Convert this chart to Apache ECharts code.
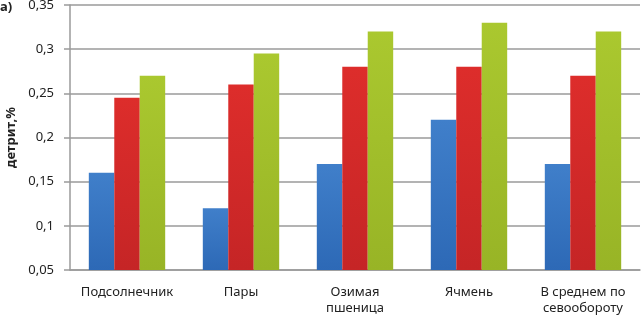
<!DOCTYPE html>
<html><head><meta charset="utf-8">
<script src="https://cdn.jsdelivr.net/npm/echarts@6/dist/echarts.min.js"></script>
<style>html,body{margin:0;padding:0;background:#fff}#c{width:643px;height:316px}</style>
</head><body><div id="c"></div>
<script>
const categories = ['Подсолнечник', 'Пары', 'Озимая\nпшеница', 'Ячмень', 'В среднем по\nсевообороту'];
const seriesBlue = [0.16, 0.12, 0.17, 0.22, 0.17];
const seriesRed = [0.245, 0.26, 0.28, 0.28, 0.27];
const seriesGreen = [0.27, 0.295, 0.32, 0.33, 0.32];
const yTicks = [0.05, 0.1, 0.15, 0.2, 0.25, 0.3, 0.35];

function grad(top, bottom) {
  return new echarts.graphic.LinearGradient(0, 0, 0, 1, [{offset: 0, color: top}, {offset: 1, color: bottom}]);
}
const font = 'Noto Sans';
const chart = echarts.init(document.getElementById('c'));
chart.setOption({
  animation: false,
  textStyle: {fontFamily: font},
  grid: {left: 70, right: 3, top: 5, bottom: 46, containLabel: false, outerBoundsMode: 'none'},
  graphic: [{type: 'text', left: 0, top: 1, style: {text: 'а)', font: 'bold 13px "Noto Sans"', fill: '#222'}}],
  xAxis: {
    type: 'category', data: categories,
    axisLine: {show: true, lineStyle: {color: '#9a9a9a', width: 1.5}},
    axisTick: {show: false},
    axisLabel: {color: '#222', fontSize: 13, margin: 14, lineHeight: 16, fontFamily: font, interval: 0}
  },
  yAxis: {
    type: 'value', min: yTicks[0], max: yTicks[yTicks.length - 1], interval: 0.05,
    name: 'детрит,%', nameLocation: 'middle', nameGap: 51, nameRotate: 90,
    nameTextStyle: {fontWeight: 'bold', fontSize: 13, color: '#222', fontFamily: font},
    axisLine: {show: true, lineStyle: {color: '#9a9a9a', width: 1.5}},
    axisTick: {show: true, length: 6, lineStyle: {color: '#9a9a9a', width: 1.5}},
    splitLine: {show: true, lineStyle: {color: '#9a9a9a', width: 1.5}},
    axisLabel: {color: '#222', fontSize: 13, margin: 16, fontFamily: font,
      formatter: v => String(Math.round(v * 100) / 100).replace('.', ',')}
  },
  series: [
    {type: 'bar', data: seriesBlue, barGap: '0%', barCategoryGap: '33%', itemStyle: {color: grad('#407fca', '#2d69b6')}},
    {type: 'bar', data: seriesRed, barGap: '0%', barCategoryGap: '33%', itemStyle: {color: grad('#dd2d2b', '#c52526')}},
    {type: 'bar', data: seriesGreen, barGap: '0%', barCategoryGap: '33%', itemStyle: {color: grad('#aac82f', '#98b426')}}
  ]
});
</script></body></html>
